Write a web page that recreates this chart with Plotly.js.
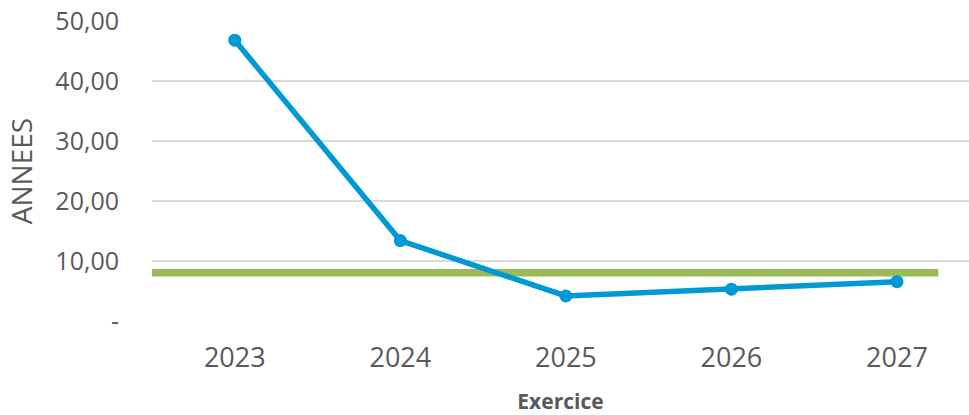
<!DOCTYPE html>
<html>
<head>
<meta charset="utf-8">
<script src="https://cdn.plot.ly/plotly-3.0.1.min.js"></script>
<style>html,body{margin:0;padding:0;background:#fff;}#chart{width:969px;height:415px;}</style>
</head>
<body>
<div id="chart"></div>
<script>
const years = ['2023', '2024', '2025', '2026', '2027'];
const annees = [46.8, 13.4, 4.17, 5.3, 6.55];
const seuil = 8.05;
const yTickVals = [0, 10, 20, 30, 40, 50];
const yTickText = ['-', '10,00', '20,00', '30,00', '40,00', '50,00'];

const traces = [
  {
    x: years, y: annees, type: 'scatter', mode: 'lines+markers',
    line: {color: '#0099D4', width: 5.5},
    marker: {color: '#0099D4', size: 13},
    cliponaxis: false, hoverinfo: 'skip'
  }
];

const layout = {
  width: 969, height: 415,
  margin: {l: 152, r: 0, t: 21, b: 94},
  paper_bgcolor: '#ffffff', plot_bgcolor: '#ffffff',
  showlegend: false,
  font: {family: 'Open Sans, sans-serif', color: '#595959'},
  xaxis: {
    type: 'category', categoryarray: years,
    range: [-0.5, 4.435],
    showgrid: false, zeroline: false, showline: false,
    ticks: '', ticklabelstandoff: 18,
    tickfont: {size: 27, color: '#595959'},
    title: {text: '<b>Exercice</b>', font: {size: 21, color: '#595959'}, standoff: 24},
    automargin: false
  },
  yaxis: {
    range: [0, 50],
    tickvals: yTickVals, ticktext: yTickText,
    showgrid: true, gridcolor: '#d9d9d9', gridwidth: 1.5,
    zeroline: false, showline: false, ticks: '',
    ticklabelstandoff: 32,
    tickfont: {size: 25, color: '#595959'},
    title: {text: 'ANNEES', font: {size: 28, color: '#595959'}, standoff: 14},
    automargin: false
  },
  shapes: [
    {type: 'line', xref: 'x', yref: 'y', x0: -0.51, x1: 4.25, y0: seuil, y1: seuil,
     line: {color: '#9BBB59', width: 7.5}, layer: 'below'}
  ]
};

Plotly.newPlot('chart', traces, layout, {staticPlot: true, displayModeBar: false});
</script>
</body>
</html>
